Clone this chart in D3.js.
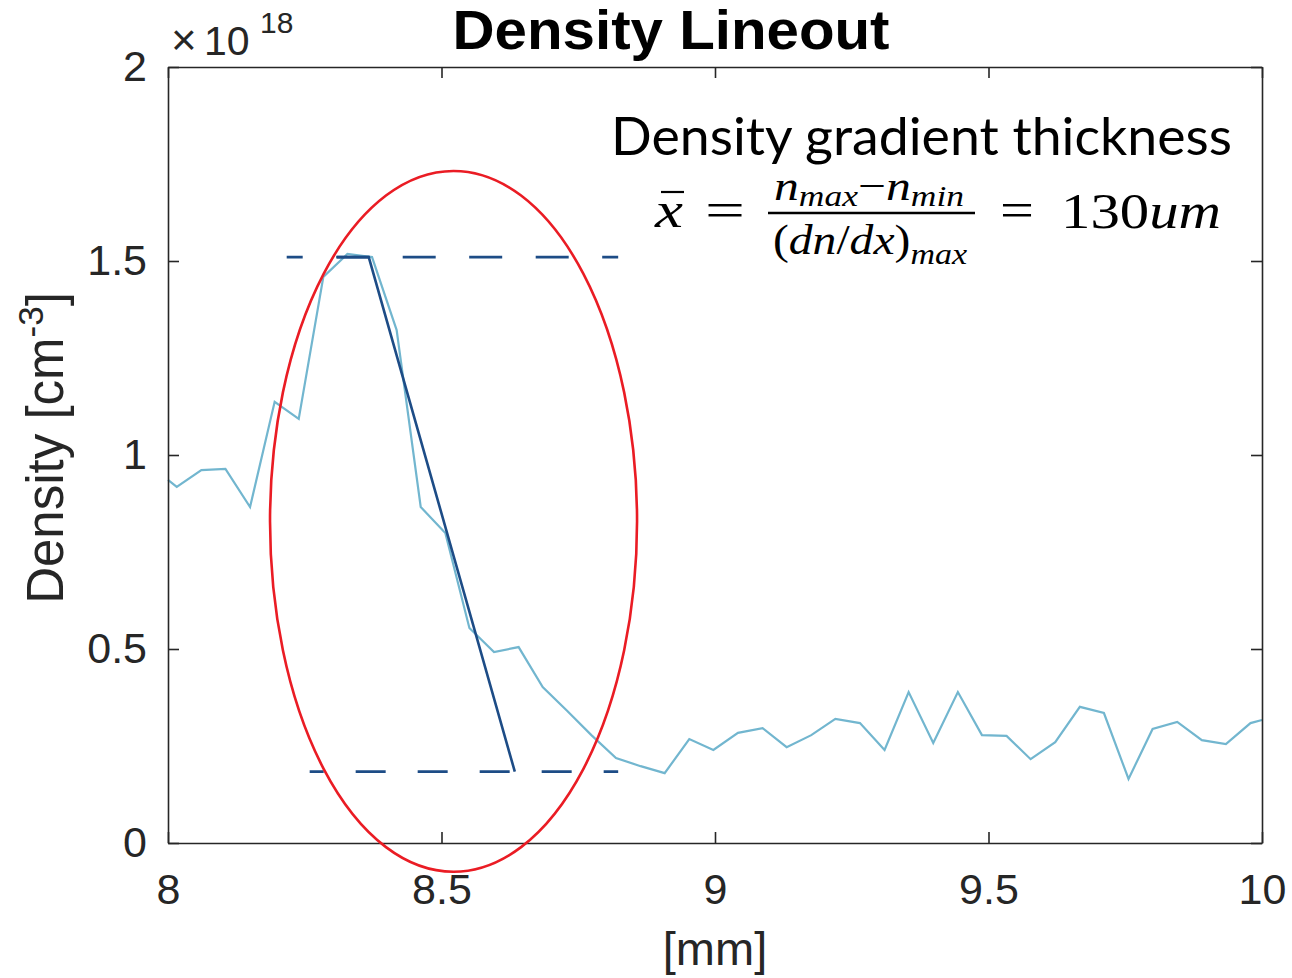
<!DOCTYPE html>
<html>
<head>
<meta charset="utf-8">
<script src="https://cdn.jsdelivr.net/npm/d3@7"></script>
<style>
  body { margin: 0; background: #fff; }
  svg { display: block; }
</style>
</head>
<body>
<div id="chart"></div>
<script>
// position along the lineout [mm]
const positions = [
  8.000, 8.016, 8.061, 8.105, 8.150, 8.195, 8.239, 8.284, 8.328, 8.373,
  8.418, 8.462, 8.507, 8.551, 8.596, 8.641, 8.685, 8.730, 8.774, 8.819,
  8.864, 8.908, 8.953, 8.997, 9.042, 9.087, 9.131, 9.176, 9.220, 9.265,
  9.310, 9.354, 9.399, 9.444, 9.488, 9.533, 9.577, 9.622, 9.667, 9.711,
  9.756, 9.800, 9.845, 9.890, 9.934, 9.979, 10.000
];

// density, units of 1e18 cm^-3
const densities = [
  0.936, 0.918, 0.961, 0.964, 0.866, 1.137, 1.093, 1.459, 1.518, 1.510,
  1.322, 0.866, 0.799, 0.554, 0.492, 0.505, 0.402, 0.340, 0.278, 0.219,
  0.198, 0.180, 0.268, 0.240, 0.284, 0.296, 0.247, 0.278, 0.320, 0.309,
  0.240, 0.389, 0.258, 0.389, 0.278, 0.276, 0.216, 0.260, 0.351, 0.335,
  0.165, 0.294, 0.312, 0.265, 0.255, 0.309, 0.317
];

const xTicks = [8, 8.5, 9, 9.5, 10];
const yTicks = [0, 0.5, 1, 1.5, 2];

// annotation: n_max / n_min levels and max-gradient line
const nMax = 1.510;
const nMin = 0.184;
const maxLineX = [8.217, 8.823];
const minLineX = [8.259, 8.823];
const gradientLine = [[8.309, 1.510], [8.367, 1.510], [8.634, 0.184]];
const ellipseCenter = [8.522, 0.829];
const ellipseRadii = [0.3355, 0.903];

const width = 1292, height = 978;
const margin = { top: 67, right: 30, bottom: 135, left: 168 };
const innerW = width - margin.left - margin.right;
const innerH = height - margin.top - margin.bottom;

const svg = d3.select("#chart").append("svg")
  .attr("width", width)
  .attr("height", height);

const g = svg.append("g")
  .attr("transform", `translate(${margin.left},${margin.top})`);

const x = d3.scaleLinear().domain([8, 10]).range([0, innerW]);
const y = d3.scaleLinear().domain([0, 2]).range([innerH, 0]);

const axisColor = "#262626";
const tickFont = "'Liberation Sans', Arial, sans-serif";

// data line
g.append("path")
  .datum(positions.map((p, i) => [p, densities[i]]))
  .attr("fill", "none")
  .attr("stroke", "#72b6cf")
  .attr("stroke-width", 2.2)
  .attr("d", d3.line().x(d => x(d[0])).y(d => y(d[1])));

// axes (MATLAB style box, ticks inside)
function styleAxis(sel) {
  sel.select(".domain").attr("stroke", axisColor).attr("stroke-width", 1.6);
  sel.selectAll(".tick line").attr("stroke", axisColor).attr("stroke-width", 1.6);
  sel.selectAll("text")
    .attr("fill", axisColor)
    .style("font-family", tickFont)
    .style("font-size", "43px");
}

g.append("g")
  .attr("transform", `translate(0,${innerH})`)
  .call(d3.axisBottom(x).tickValues(xTicks).tickSizeInner(-11).tickSizeOuter(0).tickFormat(d3.format("")))
  .call(styleAxis)
  .selectAll("text").attr("y", 30).attr("dy", "0.71em");

g.append("g")
  .call(d3.axisTop(x).tickValues(xTicks).tickSizeInner(-11).tickSizeOuter(0).tickFormat(""))
  .call(styleAxis);

g.append("g")
  .call(d3.axisLeft(y).tickValues(yTicks).tickSizeInner(-11).tickSizeOuter(0).tickPadding(21).tickFormat(d3.format("")))
  .call(styleAxis);

g.append("g")
  .attr("transform", `translate(${innerW},0)`)
  .call(d3.axisRight(y).tickValues(yTicks).tickSizeInner(-11).tickSizeOuter(0).tickFormat(""))
  .call(styleAxis);

// annotation overlay
const navy = "#1d4c86";
[[maxLineX, nMax, "33,33.5", 17], [minLineX, nMin, "30,32", 16]].forEach(([xs, v, dash, off]) => {
  g.append("line")
    .attr("x1", x(xs[0])).attr("x2", x(xs[1]))
    .attr("y1", y(v)).attr("y2", y(v))
    .attr("stroke", navy)
    .attr("stroke-width", 2.6)
    .attr("stroke-dasharray", dash)
    .attr("stroke-dashoffset", off);
});

g.append("path")
  .datum(gradientLine)
  .attr("fill", "none")
  .attr("stroke", navy)
  .attr("stroke-width", 2.6)
  .attr("d", d3.line().x(d => x(d[0])).y(d => y(d[1])));

g.append("ellipse")
  .attr("cx", x(ellipseCenter[0]))
  .attr("cy", y(ellipseCenter[1]))
  .attr("rx", x(8 + ellipseRadii[0]) - x(8))
  .attr("ry", y(0) - y(ellipseRadii[1]))
  .attr("fill", "none")
  .attr("stroke", "#ea1c24")
  .attr("stroke-width", 2.6);

// title
svg.append("text")
  .attr("x", 671).attr("y", 49)
  .attr("text-anchor", "middle")
  .attr("textLength", 437)
  .attr("lengthAdjust", "spacingAndGlyphs")
  .style("font-family", tickFont)
  .style("font-weight", "bold")
  .style("font-size", "55px")
  .text("Density Lineout");

// exponent label
svg.append("text")
  .attr("x", 171).attr("y", 55)
  .attr("fill", axisColor)
  .style("font-family", tickFont)
  .style("font-size", "44px")
  .text("\u00d7");
svg.append("text")
  .attr("x", 204).attr("y", 55)
  .attr("fill", axisColor)
  .style("font-family", tickFont)
  .style("font-size", "41px")
  .text("10");
svg.append("text")
  .attr("x", 260).attr("y", 33)
  .attr("fill", axisColor)
  .style("font-family", tickFont)
  .style("font-size", "30px")
  .text("18");

// axis labels
svg.append("text")
  .attr("x", 715).attr("y", 965)
  .attr("text-anchor", "middle")
  .attr("fill", axisColor)
  .style("font-family", tickFont)
  .style("font-size", "47px")
  .text("[mm]");

const yl = svg.append("text")
  .attr("transform", "translate(63,448) rotate(-90)")
  .attr("text-anchor", "middle")
  .attr("fill", axisColor)
  .style("font-family", tickFont)
  .style("font-size", "51px");
yl.append("tspan").text("Density [cm");
yl.append("tspan").attr("dy", -20).style("font-size", "35px").text("-3");
yl.append("tspan").attr("dy", 20).text("]");

// formula block
svg.append("text")
  .attr("x", 611).attr("y", 155)
  .attr("textLength", 621)
  .attr("lengthAdjust", "spacingAndGlyphs")
  .style("font-family", "Lato, 'Noto Sans', sans-serif")
  .style("font-size", "52px")
  .text("Density gradient thickness");

const serif = "'Liberation Serif', 'DejaVu Serif', serif";
function mathText(px, py, size, len) {
  const t = svg.append("text")
    .attr("x", px).attr("y", py)
    .style("font-family", serif)
    .style("font-size", size + "px");
  if (len) t.attr("textLength", len).attr("lengthAdjust", "spacingAndGlyphs");
  return t;
}

// x-bar
mathText(655, 227, 50, 28).style("font-style", "italic").text("x");
svg.append("line").attr("x1", 661).attr("x2", 684).attr("y1", 192).attr("y2", 192)
  .attr("stroke", "#000").attr("stroke-width", 2.2);
mathText(705, 227, 50, 40).text("=");

const num = mathText(774, 200, 42, 190).style("font-style", "italic");
num.append("tspan").text("n");
num.append("tspan").attr("dy", 6).style("font-size", "30px").text("max");
num.append("tspan").attr("dy", -6).style("font-style", "normal").text("\u2212");
num.append("tspan").text("n");
num.append("tspan").attr("dy", 6).style("font-size", "30px").text("min");

svg.append("line").attr("x1", 768).attr("x2", 975).attr("y1", 213).attr("y2", 213)
  .attr("stroke", "#000").attr("stroke-width", 2.4);

const den = mathText(773, 254, 42, 194);
den.append("tspan").text("(");
den.append("tspan").style("font-style", "italic").text("dn");
den.append("tspan").text("/");
den.append("tspan").style("font-style", "italic").text("dx");
den.append("tspan").text(")");
den.append("tspan").attr("dy", 10).style("font-style", "italic").style("font-size", "30px").text("max");

mathText(1000, 227, 50, 34).text("=");
const res = mathText(1061, 228, 50, 160);
res.append("tspan").text("130");
res.append("tspan").style("font-style", "italic").text("um");
</script>
</body>
</html>
